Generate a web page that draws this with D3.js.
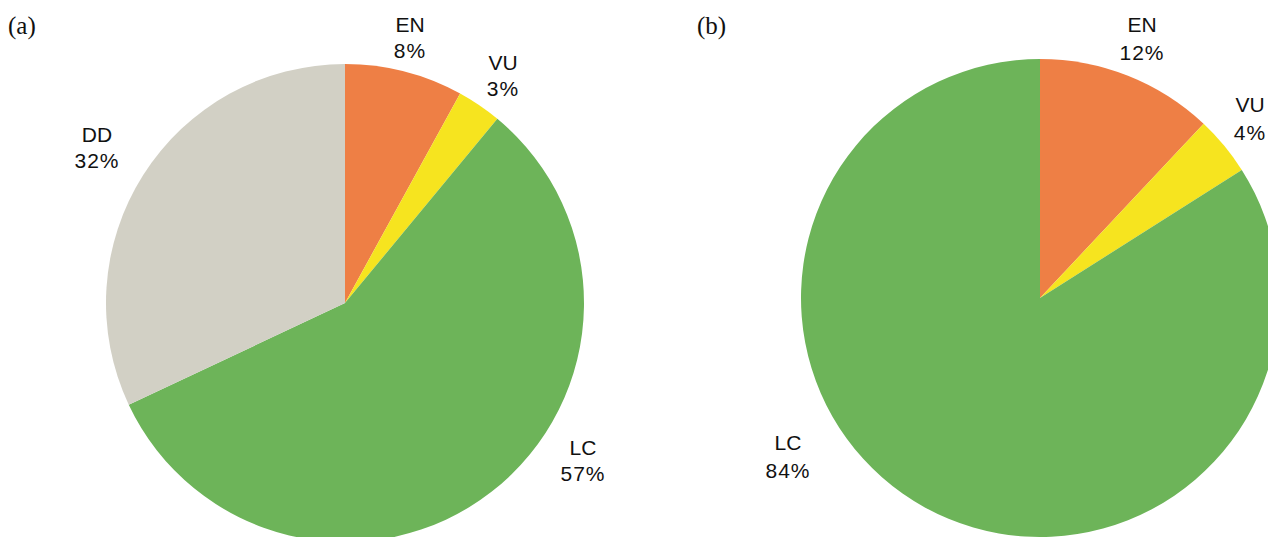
<!DOCTYPE html>
<html><head><meta charset="utf-8">
<script src="https://cdn.jsdelivr.net/npm/d3@7"></script>
<style>body{margin:0;background:#fff;overflow:hidden}</style>
</head><body>
<svg id="c" width="1268" height="537"></svg>
<script>
const categoriesA = ["EN", "VU", "LC", "DD"];
const valuesA = [8, 3, 57, 32];
const categoriesB = ["EN", "VU", "LC"];
const valuesB = [12, 4, 84];
const colors = {EN: "#ee7f45", VU: "#f6e41f", LC: "#6db459", DD: "#d2d0c5"};
const panelLabels = ["(a)", "(b)"];

const svg = d3.select("#c");
const font = "'Liberation Sans', Arial, sans-serif";

function drawPie(cx, cy, r, cats, vals, labelPos, lineGap) {
  const data = cats.map((c, i) => ({cat: c, value: vals[i]}));
  const pie = d3.pie().value(d => d.value).sort(null);
  const arc = d3.arc().innerRadius(0).outerRadius(r);
  const g = svg.append("g").attr("transform", `translate(${cx},${cy})`);
  g.selectAll("path").data(pie(data)).join("path")
    .attr("d", arc).attr("fill", d => colors[d.data.cat]);
  data.forEach(d => {
    const p = labelPos[d.cat];
    const t = svg.append("text").attr("x", cx + p[0]).attr("y", cy + p[1])
      .attr("text-anchor", "middle").attr("font-family", font)
      .attr("font-size", 21).attr("fill", "#111");
    t.append("tspan").attr("x", cx + p[0]).text(d.cat);
    t.append("tspan").attr("x", cx + p[0]).attr("dy", lineGap)
      .attr("letter-spacing", 1).text(d.value + "%");
  });
}

drawPie(345, 303, 239, categoriesA, valuesA,
  {EN: [65, -271], VU: [158, -233], LC: [238, 152], DD: [-248, -161]}, 26);
drawPie(1040, 298, 239, categoriesB, valuesB,
  {EN: [102, -266], VU: [210, -186], LC: [-252, 152]}, 28);

const serif = "'Liberation Serif', 'DejaVu Serif', serif";
svg.append("text").attr("x", 8).attr("y", 34).attr("font-family", serif)
  .attr("font-size", 25).attr("fill", "#111").text(panelLabels[0]);
svg.append("text").attr("x", 697).attr("y", 34).attr("font-family", serif)
  .attr("font-size", 25).attr("fill", "#111").text(panelLabels[1]);
</script>
</body></html>
